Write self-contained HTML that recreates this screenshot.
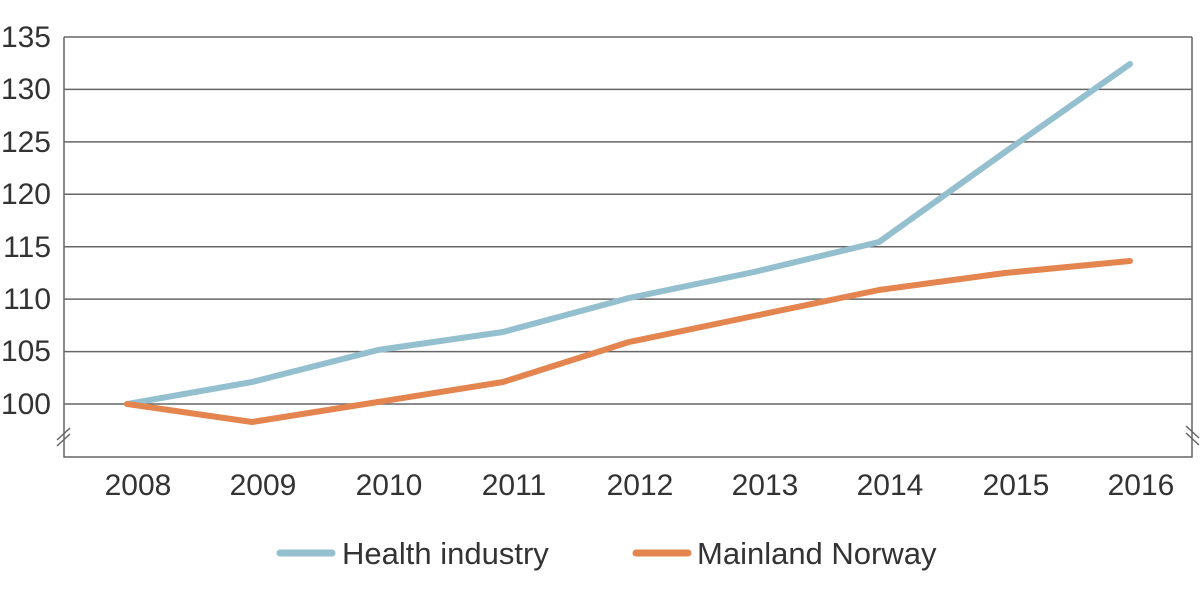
<!DOCTYPE html>
<html><head><style>body{margin:0;background:#fff}</style></head><body>
<svg width="1200" height="589" xmlns="http://www.w3.org/2000/svg" font-family="Liberation Sans, sans-serif" font-size="30" fill="#333">
<g stroke="#666" stroke-width="1.5">
<line x1="64" y1="37" x2="1192" y2="37"/>
<line x1="64" y1="89.4" x2="1192" y2="89.4"/>
<line x1="64" y1="141.9" x2="1192" y2="141.9"/>
<line x1="64" y1="194.3" x2="1192" y2="194.3"/>
<line x1="64" y1="246.7" x2="1192" y2="246.7"/>
<line x1="64" y1="299.1" x2="1192" y2="299.1"/>
<line x1="64" y1="351.6" x2="1192" y2="351.6"/>
<line x1="64" y1="404" x2="1192" y2="404"/>
<polyline fill="none" points="64,37 64,457 1192,457 1192,37"/>
<line x1="57" y1="440" x2="70" y2="428"/><line x1="57" y1="446" x2="70" y2="434"/>
<line x1="1186" y1="426" x2="1199" y2="438"/><line x1="1186" y1="433" x2="1199" y2="445"/>
</g>
<g text-anchor="end">
<text x="51" y="47">135</text><text x="51" y="99">130</text><text x="51" y="152">125</text><text x="51" y="204">120</text><text x="51" y="257">115</text><text x="51" y="309">110</text><text x="51" y="361">105</text><text x="51" y="414">100</text>
</g>
<g text-anchor="middle">
<text x="138" y="495">2008</text><text x="263" y="495">2009</text><text x="389" y="495">2010</text><text x="514" y="495">2011</text><text x="640" y="495">2012</text><text x="765" y="495">2013</text><text x="890" y="495">2014</text><text x="1016" y="495">2015</text><text x="1141" y="495">2016</text>
</g>
<polyline fill="none" stroke="#93bfcf" stroke-width="6" stroke-linecap="round" stroke-linejoin="round" points="127,404 252,382 378,350 503,332 629,298 754,272 879,242 1005,152 1130,64"/>
<polyline fill="none" stroke="#e4844e" stroke-width="6" stroke-linecap="round" stroke-linejoin="round" points="127,404 252,422 378,402 503,382 629,342 754,316 879,290 1005,273 1130,261"/>
<line x1="280" y1="553" x2="332" y2="553" stroke="#93bfcf" stroke-width="7" stroke-linecap="round"/>
<text x="342" y="564" font-size="31">Health industry</text>
<line x1="636" y1="553" x2="688" y2="553" stroke="#e4844e" stroke-width="7" stroke-linecap="round"/>
<text x="697" y="564" font-size="31">Mainland Norway</text>
</svg>
</body></html>
